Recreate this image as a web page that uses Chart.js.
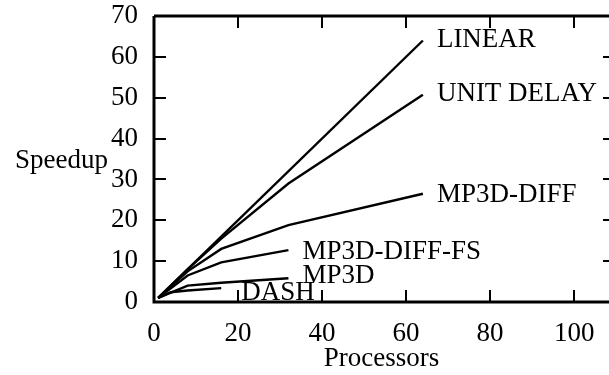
<!DOCTYPE html>
<html>
<head>
<meta charset="utf-8">
<script src="https://cdn.jsdelivr.net/npm/chart.js@4.4.1/dist/chart.umd.min.js"></script>
<style>
  html, body { margin: 0; padding: 0; background: #fff; }
  #wrap { width: 609px; height: 375px; }
</style>
</head>
<body>
<div id="wrap"><canvas id="speedupChart" width="609" height="375"></canvas></div>
<script>
// speedup curves (processors, speedup)
const linearPts = [[1, 1], [64, 64]];
const unitDelayPts = [[1, 1], [8, 8], [16, 15.5], [32, 29], [64, 50.7]];
const mp3dDiffPts = [[1, 1], [8, 7.5], [16, 13], [32, 18.8], [64, 26.5]];
const mp3dDiffFsPts = [[1, 1], [8, 6.5], [16, 9.7], [32, 12.7]];
const mp3dPts = [[1, 1], [8, 4], [16, 4.7], [32, 5.8]];
const dashPts = [[1, 1], [4, 2.4], [8, 2.8], [16, 3.4]];

const seriesNames = ['LINEAR', 'UNIT DELAY', 'MP3D-DIFF', 'MP3D-DIFF-FS', 'MP3D', 'DASH'];
const seriesPts = [linearPts, unitDelayPts, mp3dDiffPts, mp3dDiffFsPts, mp3dPts, dashPts];

const xTicks = [0, 20, 40, 60, 80, 100];
const yTicks = [0, 10, 20, 30, 40, 50, 60, 70];
const xMax = 108.3;
const yMax = 70;

const FONT = '"Liberation Serif", "DejaVu Serif", serif';
const FSIZE = 27;

// label nudges (px) from each curve's last point
const labelNudge = {
    'LINEAR': [14, -1],
    'UNIT DELAY': [14, -1],
    'MP3D-DIFF': [14, 1],
    'MP3D-DIFF-FS': [14, 2],
    'MP3D': [14, -2],
    'DASH': [20, 5]
};

const framePlugin = {
    id: 'frameAndLabels',
    afterDraw(chart) {
        const ctx = chart.ctx;
        const area = chart.chartArea;
        const xs = chart.scales.x, ys = chart.scales.y;
        ctx.save();
        ctx.strokeStyle = '#000';
        ctx.lineWidth = 3;
        ctx.beginPath();
        ctx.moveTo(area.left, area.top);
        ctx.lineTo(area.right, area.top);
        ctx.moveTo(area.left, area.top);
        ctx.lineTo(area.left, area.bottom);
        ctx.lineTo(area.right, area.bottom);
        ctx.stroke();

        // inward ticks on all four sides
        ctx.lineWidth = 2;
        ctx.beginPath();
        xTicks.forEach(v => {
            if (v === 0) return;
            const px = Math.round(xs.getPixelForValue(v));
            ctx.moveTo(px, area.bottom);
            ctx.lineTo(px, area.bottom - 12);
            ctx.moveTo(px, area.top);
            ctx.lineTo(px, area.top + 12);
        });
        yTicks.forEach(v => {
            if (v === 0 || v === yMax) return;
            const py = Math.round(ys.getPixelForValue(v));
            ctx.moveTo(area.left, py);
            ctx.lineTo(area.left + 12, py);
            ctx.moveTo(area.right, py);
            ctx.lineTo(area.right - 6, py);
        });
        ctx.stroke();

        ctx.fillStyle = '#000';
        ctx.font = FSIZE + 'px ' + FONT;
        ctx.textBaseline = 'middle';
        ctx.textAlign = 'left';
        chart.data.datasets.forEach(ds => {
            const last = ds.data[ds.data.length - 1];
            const nudge = labelNudge[ds.label] || [14, 0];
            ctx.fillText(ds.label, xs.getPixelForValue(last.x) + nudge[0], ys.getPixelForValue(last.y) + nudge[1]);
        });

        ctx.fillText('Speedup', 15, 161);
        ctx.restore();
    }
};

const datasets = seriesNames.map((name, i) => ({
    label: name,
    data: seriesPts[i].map(p => ({ x: p[0], y: p[1] })),
    borderColor: '#000',
    borderWidth: 2.4,
    pointRadius: 0,
    tension: 0,
    fill: false
}));

new Chart(document.getElementById('speedupChart'), {
    type: 'line',
    data: { datasets: datasets },
    options: {
        responsive: false,
        animation: false,
        layout: { padding: { top: 16, left: 0, right: 0, bottom: 0 } },
        plugins: { legend: { display: false }, tooltip: { enabled: false } },
        scales: {
            x: {
                type: 'linear',
                min: 0,
                max: xMax,
                grid: { display: false, drawTicks: false },
                border: { display: false },
                ticks: {
                    stepSize: 20,
                    includeBounds: false,
                    color: '#000',
                    padding: 16,
                    font: { family: FONT, size: FSIZE }
                },
                title: {
                    display: true,
                    text: 'Processors',
                    color: '#000',
                    padding: { top: 0, bottom: 0 },
                    font: { family: FONT, size: FSIZE }
                },
                afterFit(scale) {
                    scale.height = 73;
                    scale.paddingLeft = 0;
                    scale.paddingRight = 0;
                }
            },
            y: {
                min: 0,
                max: yMax,
                grid: { display: false, drawTicks: false },
                border: { display: false },
                ticks: {
                    stepSize: 10,
                    color: '#000',
                    padding: 16,
                    font: { family: FONT, size: FSIZE }
                },
                afterFit(scale) {
                    scale.width = 154;
                    scale.paddingTop = 0;
                    scale.paddingBottom = 0;
                }
            }
        }
    },
    plugins: [framePlugin]
});
</script>
</body>
</html>
